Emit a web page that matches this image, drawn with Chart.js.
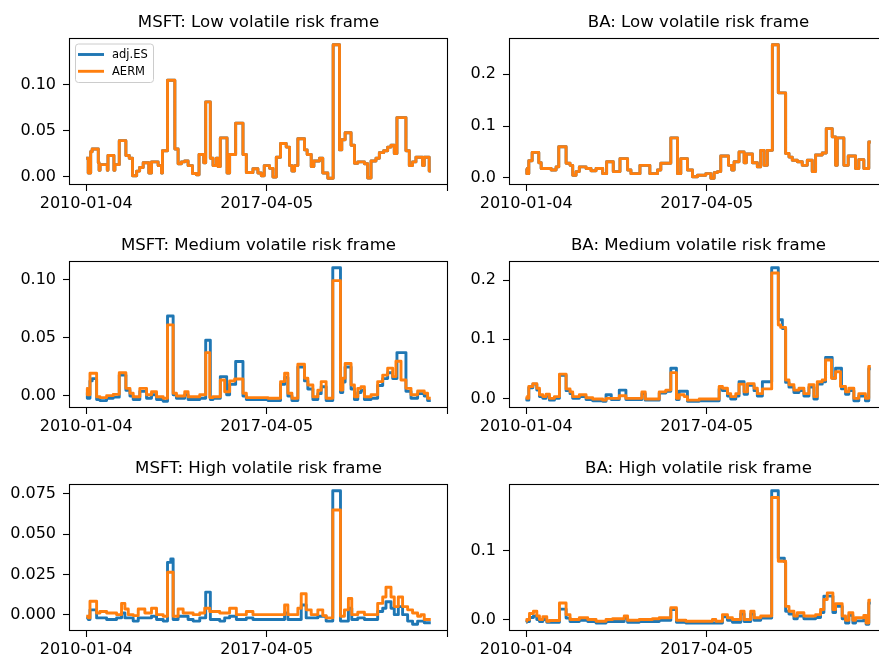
<!DOCTYPE html>
<html>
<head>
<meta charset="utf-8">
<script src="https://cdn.jsdelivr.net/npm/chart.js@4.4.0/dist/chart.umd.min.js"></script>
<style>
html, body { margin: 0; padding: 0; background: #fff; overflow: hidden; width: 879px; height: 662px; }
canvas { position: absolute; }
</style>
</head>
<body>
<script>
// x axis: trading-day index, labelled with dates
const xTickIdx = [0, 1825, 3650];
const xTickLabels = ['2010-01-04', '2017-04-05', ''];

// y tick labels per panel (values are parsed from the labels)
const msftLowTicks = ['0.00', '0.05', '0.10'];
const baLowTicks = ['0.0', '0.1', '0.2'];
const msftMedTicks = ['0.00', '0.05', '0.10'];
const baMedTicks = ['0.0', '0.1', '0.2'];
const msftHighTicks = ['0.000', '0.025', '0.050', '0.075'];
const baHighTicks = ['0.0', '0.1'];

// series: [day index, value] at each level change
const msftLowAERM = [[0,0.020],[20,0.004],[45,0.027],[60,0.030],[122,0.015],[130,0.007],[140,0.013],[213,0.007],[220,0.023],[280,0.007],[290,0.013],[334,0.039],[401,0.023],[435,0.020],[468,0.001],[510,0.006],[540,0.010],[576,0.015],[633,0.004],[660,0.016],[727,0.012],[761,0.004],[771,0.028],[822,0.1045],[896,0.030],[929,0.014],[963,0.016],[996,0.017],[1030,0.012],[1074,0.0035],[1114,0.002],[1141,0.024],[1188,0.015],[1208,0.081],[1255,0.020],[1282,0.012],[1316,0.020],[1333,0.011],[1356,0.042],[1424,0.004],[1450,0.024],[1511,0.058],[1585,0.024],[1619,0.0045],[1686,0.0085],[1736,0.004],[1770,0.001],[1800,0.012],[1854,0.009],[1888,-0.0005],[1922,0.021],[1965,0.036],[2022,0.032],[2056,0.012],[2080,0.006],[2107,0.012],[2140,0.041],[2207,0.029],[2234,0.024],[2275,0.011],[2302,0.017],[2359,0.020],[2392,0.004],[2443,-0.0018],[2497,0.143],[2561,0.029],[2584,0.040],[2618,0.0475],[2678,0.034],[2712,0.0145],[2746,0.016],[2813,0.014],[2846,-0.0015],[2880,0.017],[2930,0.020],[2964,0.026],[3008,0.028],[3048,0.032],[3082,0.034],[3115,0.025],[3142,0.064],[3233,0.028],[3267,0.012],[3300,0.016],[3334,0.021],[3401,0.012],[3418,0.021],[3468,0.006],[3484,0.006]];
const msftLowES = msftLowAERM; // both measures coincide in the low frame

const baLowAERM = [[0,0.018],[6,0.008],[26,0.033],[60,0.049],[127,0.029],[151,0.018],[252,0.015],[302,0.021],[329,0.060],[403,0.028],[443,0.024],[470,0.005],[504,0.012],[537,0.021],[605,0.018],[655,0.0135],[706,0.018],[773,0.008],[813,0.031],[880,0.012],[948,0.037],[1025,0.015],[1059,0.008],[1150,0.024],[1250,0.008],[1328,0.015],[1361,0.028],[1462,0.077],[1530,0.008],[1563,0.037],[1630,0.015],[1681,0.002],[1732,0.005],[1816,0.008],[1867,-0.001],[1900,0.010],[1934,0.012],[1967,0.042],[2045,0.024],[2078,0.015],[2102,0.031],[2152,0.050],[2203,0.029],[2226,0.046],[2287,0.029],[2337,0.021],[2371,0.053],[2405,0.024],[2438,0.053],[2489,0.257],[2549,0.164],[2623,0.047],[2657,0.040],[2690,0.034],[2741,0.031],[2791,0.024],[2842,0.034],[2892,0.012],[2926,0.044],[2993,0.048],[3034,0.095],[3094,0.079],[3128,0.024],[3145,0.077],[3212,0.024],[3256,0.042],[3330,0.018],[3363,0.035],[3414,0.018],[3464,0.069],[3484,0.069]];
const baLowES = baLowAERM;

const msftMedAERM = [[0,0.0066],[11,0.001],[38,0.0196],[105,-0.0006],[139,-0.0014],[206,0.0003],[273,0.0014],[334,0.020],[401,0.0066],[442,0.0023],[475,-0.0006],[542,0.0066],[610,0.001],[660,0.0037],[711,-0.0006],[778,-0.002],[822,0.0613],[879,0.0023],[912,0.0],[996,0.0037],[1030,-0.0006],[1148,0.001],[1208,0.0374],[1249,-0.0014],[1282,-0.0006],[1356,0.0138],[1400,0.0037],[1450,0.0129],[1501,0.0147],[1585,0.0023],[1619,-0.0014],[1838,-0.002],[1965,0.0124],[2006,0.0196],[2039,0.0023],[2080,-0.002],[2140,0.0274],[2207,0.0153],[2241,0.0095],[2292,-0.0006],[2342,0.005],[2376,0.0124],[2426,-0.002],[2493,0.0994],[2571,0.0052],[2594,0.0153],[2618,0.028],[2678,0.0095],[2712,-0.0006],[2746,0.0066],[2779,0.008],[2813,-0.0006],[2880,0.001],[2947,0.0124],[2998,0.018],[3048,0.024],[3099,0.0167],[3132,0.030],[3183,0.0138],[3233,0.0066],[3284,0.001],[3351,0.0043],[3418,0.0023],[3452,-0.002],[3484,-0.002]];
const msftMedES = [[0,0.003],[11,-0.002],[38,0.013],[60,0.015],[105,-0.003],[139,-0.004],[206,-0.002],[273,-0.001],[334,0.018],[401,0.005],[442,0.0],[475,-0.003],[542,0.004],[610,-0.002],[660,0.001],[711,-0.003],[778,-0.0046],[822,0.069],[879,0.001],[912,-0.002],[996,0.001],[1030,-0.003],[1148,-0.002],[1208,0.048],[1255,-0.003],[1282,-0.002],[1356,0.0167],[1420,0.001],[1450,0.010],[1511,0.0297],[1585,0.0],[1619,-0.003],[1838,-0.004],[1965,0.010],[2006,0.016],[2039,0.0],[2080,-0.004],[2140,0.025],[2207,0.013],[2241,0.006],[2292,-0.003],[2342,0.002],[2376,0.008],[2426,-0.004],[2493,0.1106],[2571,0.003],[2594,0.012],[2618,0.025],[2678,0.006],[2712,-0.003],[2746,0.003],[2779,0.005],[2813,-0.003],[2880,-0.002],[2947,0.009],[2998,0.015],[3048,0.020],[3099,0.015],[3142,0.0374],[3233,0.004],[3284,-0.002],[3351,0.002],[3418,0.0],[3452,-0.004],[3484,-0.004]];

const baMedAERM = [[0,0.003],[6,0.0],[26,0.020],[67,0.025],[107,0.017],[134,0.006],[168,0.003],[201,0.007],[235,0.0],[285,0.003],[336,0.041],[403,0.016],[443,0.011],[470,0.003],[537,0.006],[605,0.001],[672,-0.001],[773,-0.003],[807,0.0],[941,0.0045],[1008,0.0],[1170,0.011],[1203,-0.001],[1345,0.011],[1412,0.014],[1462,0.0435],[1519,0.0],[1546,0.006],[1597,0.003],[1630,-0.003],[1749,-0.001],[1951,0.020],[1984,0.017],[2035,0.008],[2068,0.003],[2119,0.008],[2152,0.024],[2203,0.011],[2237,0.025],[2304,0.017],[2337,0.008],[2388,0.016],[2482,0.212],[2549,0.124],[2573,0.120],[2623,0.031],[2657,0.023],[2707,0.014],[2758,0.017],[2808,0.008],[2859,0.023],[2909,0.003],[2943,0.028],[2993,0.031],[3027,0.065],[3087,0.034],[3128,0.045],[3178,0.020],[3229,0.011],[3262,0.017],[3313,0.0],[3363,0.008],[3430,0.0],[3464,0.054],[3484,0.054]];
const baMedES = [[0,0.0],[6,-0.003],[26,0.018],[67,0.024],[107,0.014],[134,0.003],[168,0.0],[201,0.004],[235,-0.003],[285,0.0],[336,0.039],[403,0.013],[443,0.008],[470,0.0],[537,0.003],[605,-0.002],[672,-0.004],[773,-0.005],[807,0.006],[860,-0.002],[941,0.014],[1008,-0.002],[1170,0.008],[1203,-0.003],[1345,0.009],[1412,0.012],[1462,0.051],[1519,-0.002],[1546,0.012],[1630,-0.005],[1749,-0.004],[1951,0.016],[1984,0.013],[2035,0.004],[2068,-0.001],[2119,0.004],[2152,0.028],[2203,0.007],[2237,0.022],[2304,0.013],[2337,0.004],[2388,0.028],[2482,0.221],[2549,0.133],[2590,0.118],[2623,0.027],[2657,0.019],[2707,0.010],[2758,0.013],[2808,0.004],[2859,0.019],[2909,-0.001],[2943,0.024],[2993,0.028],[3027,0.069],[3094,0.034],[3128,0.051],[3188,0.016],[3229,0.007],[3262,0.013],[3313,-0.004],[3363,0.004],[3430,-0.004],[3464,0.050],[3484,0.050]];

const msftHighAERM = [[0,-0.001],[21,-0.002],[38,0.0083],[105,0.001],[139,0.002],[206,0.001],[307,0.0],[357,0.007],[391,0.0035],[425,0.0],[475,-0.0006],[526,0.0035],[593,0.001],[660,0.004],[711,0.0],[778,-0.001],[822,0.0263],[879,-0.001],[929,0.0035],[980,0.001],[1081,0.0],[1148,0.001],[1198,0.004],[1249,0.002],[1350,0.001],[1450,0.004],[1518,0.0],[1619,0.002],[1686,0.0],[2006,0.006],[2039,0.0],[2140,0.004],[2174,0.013],[2224,0.003],[2275,0.0],[2342,0.003],[2392,-0.0006],[2426,-0.002],[2493,0.065],[2571,-0.001],[2611,0.003],[2651,0.010],[2685,0.0],[2746,0.0015],[2813,0.0],[2947,0.007],[2998,0.011],[3031,0.017],[3082,0.011],[3115,0.005],[3156,0.011],[3199,0.005],[3250,0.003],[3300,0.001],[3351,-0.001],[3385,0.0],[3418,-0.003],[3484,-0.003]];
const msftHighES = [[0,-0.002],[21,-0.003],[38,0.003],[105,-0.002],[206,-0.003],[307,-0.002],[357,0.001],[391,-0.002],[475,-0.004],[526,-0.002],[660,-0.001],[711,-0.003],[778,-0.004],[822,0.0325],[855,0.0346],[879,-0.003],[929,-0.001],[1030,-0.003],[1081,-0.004],[1148,-0.002],[1208,0.014],[1255,-0.003],[1350,-0.004],[1400,-0.002],[1450,-0.001],[1518,-0.003],[1619,-0.002],[1686,-0.003],[2006,0.001],[2039,-0.003],[2174,0.006],[2224,-0.002],[2342,-0.001],[2426,-0.004],[2493,0.077],[2571,-0.004],[2651,0.004],[2685,-0.003],[2746,-0.002],[2813,-0.003],[2947,0.002],[2998,0.004],[3031,0.008],[3082,0.004],[3115,0.0],[3156,0.005],[3199,0.0],[3250,-0.004],[3300,-0.006],[3351,-0.004],[3418,-0.005],[3484,-0.005]];

const baHighAERM = [[0,-0.0025],[6,0.0],[33,0.0087],[73,0.012],[107,0.005],[134,0.0],[168,0.004],[208,-0.0025],[235,-0.0015],[336,0.024],[403,0.007],[443,0.0],[537,0.0025],[622,0.0],[706,-0.0025],[807,0.0],[874,0.001],[991,0.005],[1025,-0.001],[1143,0.0],[1277,0.001],[1345,0.0025],[1462,0.017],[1519,-0.001],[1614,-0.0025],[1883,0.0],[1917,-0.0025],[1984,0.007],[2035,0.0025],[2085,0.0],[2169,0.012],[2203,0.0],[2270,0.012],[2304,0.0025],[2371,0.005],[2482,0.177],[2549,0.0845],[2623,0.019],[2657,0.012],[2707,0.005],[2741,0.0097],[2808,0.005],[2926,0.007],[2976,0.0145],[3010,0.029],[3044,0.0386],[3101,0.0145],[3128,0.023],[3195,0.005],[3229,-0.001],[3262,0.0097],[3303,-0.001],[3330,0.0025],[3414,0.006],[3437,-0.005],[3464,0.028],[3484,0.028]];
const baHighES = [[0,-0.004],[6,-0.003],[33,0.003],[73,0.005],[107,0.0],[134,-0.003],[168,0.0],[208,-0.004],[336,0.015],[403,0.002],[443,-0.003],[537,-0.001],[622,-0.003],[706,-0.005],[807,-0.003],[991,0.002],[1025,-0.004],[1143,-0.003],[1345,-0.001],[1462,0.0145],[1519,-0.004],[1614,-0.005],[1984,0.004],[2035,-0.001],[2085,-0.004],[2169,0.008],[2203,-0.003],[2270,0.008],[2304,-0.001],[2371,0.002],[2482,0.187],[2549,0.089],[2610,0.084],[2623,0.012],[2657,0.008],[2707,0.001],[2741,0.005],[2808,0.001],[2926,0.003],[2976,0.010],[3010,0.034],[3101,0.010],[3128,0.019],[3195,0.001],[3229,-0.005],[3262,0.006],[3303,-0.005],[3330,-0.002],[3414,0.002],[3437,-0.007],[3464,0.024],[3484,0.024]];

const BLUE = '#1f77b4', ORANGE = '#ff7f0e';
const FONT = 'DejaVu Sans';

// title, spines and the legend in the first panel
const framePlugin = {
    id: 'frame',
    afterDraw(chart, args, opts) {
        const a = chart.chartArea, ctx = chart.ctx;
        ctx.save();
        ctx.strokeStyle = '#000';
        ctx.lineWidth = 1.1;
        ctx.strokeRect(a.left + 0.5, a.top + 0.5, a.right - a.left - 1, a.bottom - a.top - 1);
        ctx.fillStyle = '#000';
        ctx.font = '16.6px "' + FONT + '"';
        ctx.textAlign = 'center';
        ctx.textBaseline = 'alphabetic';
        ctx.fillText(opts.title, (a.left + a.right) / 2, a.top - 11.5);
        if (opts.legend) {
            const x = a.left + 6, y = a.top + 5.5, w = 78, h = 38.5;
            ctx.beginPath();
            ctx.roundRect(x + 0.5, y + 0.5, w, h, 3);
            ctx.fillStyle = 'rgba(255,255,255,0.8)';
            ctx.fill();
            ctx.strokeStyle = '#cccccc';
            ctx.lineWidth = 1;
            ctx.stroke();
            ctx.font = '11.5px "' + FONT + '"';
            ctx.textAlign = 'left';
            ctx.textBaseline = 'middle';
            chart.data.datasets.forEach((ds, i) => {
                const ly = y + 11 + i * 16.8;
                ctx.strokeStyle = ds.borderColor;
                ctx.lineWidth = 2.9;
                ctx.beginPath();
                ctx.moveTo(x + 3, ly);
                ctx.lineTo(x + 29, ly);
                ctx.stroke();
                ctx.fillStyle = '#000';
                ctx.fillText(ds.label, x + 37, ly + 0.5);
            });
        }
        ctx.restore();
    }
};

const panels = [
    { left: 0,   top: 0,   title: 'MSFT: Low volatile risk frame',    es: msftLowES,  aerm: msftLowAERM,  yTicks: msftLowTicks,  legend: true },
    { left: 440, top: 0,   title: 'BA: Low volatile risk frame',      es: baLowES,    aerm: baLowAERM,    yTicks: baLowTicks },
    { left: 0,   top: 223, title: 'MSFT: Medium volatile risk frame', es: msftMedES,  aerm: msftMedAERM,  yTicks: msftMedTicks },
    { left: 440, top: 223, title: 'BA: Medium volatile risk frame',   es: baMedES,    aerm: baMedAERM,    yTicks: baMedTicks },
    { left: 0,   top: 446, title: 'MSFT: High volatile risk frame',   es: msftHighES, aerm: msftHighAERM, yTicks: msftHighTicks },
    { left: 440, top: 446, title: 'BA: High volatile risk frame',     es: baHighES,   aerm: baHighAERM,   yTicks: baHighTicks }
];

const toXY = arr => arr.map(p => ({ x: p[0], y: p[1] }));

panels.forEach((p, n) => {
    const canvas = document.createElement('canvas');
    canvas.width = 453;
    canvas.height = 215;
    canvas.style.left = p.left + 'px';
    canvas.style.top = p.top + 'px';
    document.body.appendChild(canvas);

    // matplotlib-like 5% margins around the data
    const all = p.es.concat(p.aerm);
    const xs = all.map(d => d[0]), ys = all.map(d => d[1]);
    const xLo = Math.min(...xs), xHi = Math.max(...xs);
    const yLo = Math.min(...ys), yHi = Math.max(...ys);
    const xPad = (xHi - xLo) * 0.05, yPad = (yHi - yLo) * 0.05;
    const yTickVals = p.yTicks.map(parseFloat);

    new Chart(canvas.getContext('2d'), {
        type: 'line',
        data: {
            datasets: [
                { label: 'adj.ES', data: toXY(p.es), borderColor: BLUE, order: 2 },
                { label: 'AERM', data: toXY(p.aerm), borderColor: ORANGE, order: 1 }
            ]
        },
        options: {
            responsive: false,
            animation: false,
            devicePixelRatio: 1,
            elements: {
                line: { borderWidth: 2.9, stepped: true, tension: 0, borderJoinStyle: 'round', fill: false },
                point: { radius: 0, hoverRadius: 0 }
            },
            layout: { padding: { top: 38, right: 5, left: 0, bottom: 0 } },
            plugins: {
                legend: { display: false },
                tooltip: { enabled: false },
                frame: { title: p.title, legend: !!p.legend }
            },
            scales: {
                x: {
                    type: 'linear',
                    min: xLo - xPad,
                    max: xHi + xPad,
                    afterFit: s => { s.height = 30; },
                    afterBuildTicks: s => { s.ticks = xTickIdx.map(v => ({ value: v })); },
                    ticks: {
                        callback: (v, i) => xTickLabels[i],
                        font: { family: FONT, size: 16 },
                        color: '#000',
                        padding: 3,
                        maxRotation: 0,
                        autoSkip: false
                    },
                    grid: { display: true, drawOnChartArea: false, drawTicks: true, tickLength: 6, tickColor: '#000', tickWidth: 1.1 },
                    border: { display: false }
                },
                y: {
                    min: yLo - yPad,
                    max: yHi + yPad,
                    afterFit: s => { s.width = 69; },
                    afterBuildTicks: s => { s.ticks = yTickVals.map(v => ({ value: v })); },
                    ticks: {
                        callback: (v, i) => p.yTicks[i],
                        font: { family: FONT, size: 16 },
                        color: '#000',
                        padding: 7
                    },
                    grid: { display: true, drawOnChartArea: false, drawTicks: true, tickLength: 6, tickColor: '#000', tickWidth: 1.1 },
                    border: { display: false }
                }
            }
        },
        plugins: [framePlugin]
    });
});
</script>
</body>
</html>
